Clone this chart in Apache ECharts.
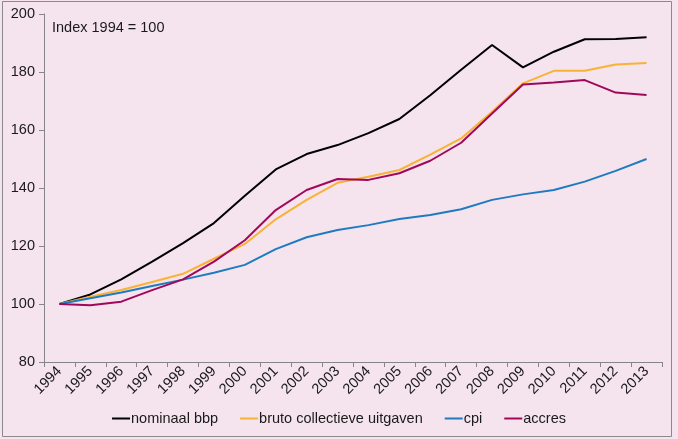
<!DOCTYPE html>
<html>
<head>
<meta charset="utf-8">
<script src="https://cdn.jsdelivr.net/npm/echarts@6/dist/echarts.min.js"></script>
<style>
html,body{margin:0;padding:0;background:#F5E4EE;}
#c{width:678px;height:439px;}
</style>
</head>
<body>
<div id="c"></div>
<script>
var years = ['1994','1995','1996','1997','1998','1999','2000','2001','2002','2003','2004','2005','2006','2007','2008','2009','2010','2011','2012','2013'];
var nominaalBbp = [100,103.3,108.5,114.6,121,127.9,137.3,146.4,151.7,154.8,158.9,163.8,172,180.8,189.3,181.6,187,191.3,191.4,192];
var brutoCollectieveUitgaven = [100,102.5,104.8,107.6,110.4,115.6,120.7,129.2,135.9,141.8,143.9,146.2,151.5,157.1,166.3,176.1,180.4,180.4,182.6,183.1];
var cpi = [100,102,104,106.2,108.4,110.8,113.5,118.9,123,125.5,127.2,129.3,130.7,132.7,135.9,137.8,139.3,142.2,145.9,150];
var accres = [100,99.6,100.8,104.8,108.5,114.6,122,132.4,139.3,143.1,142.8,145.1,149.4,155.6,165.7,175.7,176.4,177.2,172.9,172.1];
var yTicks = {min:80, max:200, interval:20};
var seriesNames = ['nominaal bbp','bruto collectieve uitgaven','cpi','accres'];
var annotation = 'Index 1994 = 100';

var FONT = 'Liberation Sans, Arial, sans-serif';
var TXT = '#1a1a1a';
var AX = '#868686';
var colors = ['#000000','#F9B233','#1F7BC0','#A0095B'];
var datasets = [nominaalBbp, brutoCollectieveUitgaven, cpi, accres];

var chart = echarts.init(document.getElementById('c'), null, {renderer:'canvas'});
chart.setOption({
  backgroundColor:'#F5E4EE',
  animation:false,
  color: colors,
  grid:{left:44, right:16, top:14, bottom:77, containLabel:false},
  graphic:[
    {type:'rect', shape:{x:2.5,y:1.5,width:669,height:435}, style:{fill:'none', stroke:'#8a8a8a', lineWidth:1}, silent:true, z:-1},
    {type:'text', left:52, top:20, style:{text:annotation, font:'14.5px '+FONT, fill:TXT}}
  ],
  xAxis:{
    type:'category', data:years, boundaryGap:true,
    axisLine:{show:true, lineStyle:{color:AX, width:1}},
    axisTick:{show:true, alignWithLabel:false, length:5, lineStyle:{color:AX}},
    axisLabel:{rotate:45, margin:7, fontSize:14.5, fontFamily:FONT, color:TXT, interval:0, padding:[0,0,0,0]},
    splitLine:{show:false}
  },
  yAxis:{
    type:'value', min:yTicks.min, max:yTicks.max, interval:yTicks.interval,
    axisLine:{show:true, lineStyle:{color:AX, width:1}},
    axisTick:{show:true, length:5, lineStyle:{color:AX}},
    axisLabel:{margin:9, fontSize:14.5, fontFamily:FONT, color:TXT},
    splitLine:{show:false}
  },
  legend:{
    bottom:8, left:'center', icon:'rect', itemWidth:18, itemHeight:2, itemGap:22,
    textStyle:{fontSize:14.5, fontFamily:FONT, color:TXT, padding:[0,0,0,-4]},
    data:seriesNames
  },
  series: seriesNames.map(function(n,i){
    return {name:n, type:'line', data:datasets[i], symbol:'none', showSymbol:false,
      lineStyle:{width:2, color:colors[i]}, itemStyle:{color:colors[i]}};
  })
});
</script>
</body>
</html>
